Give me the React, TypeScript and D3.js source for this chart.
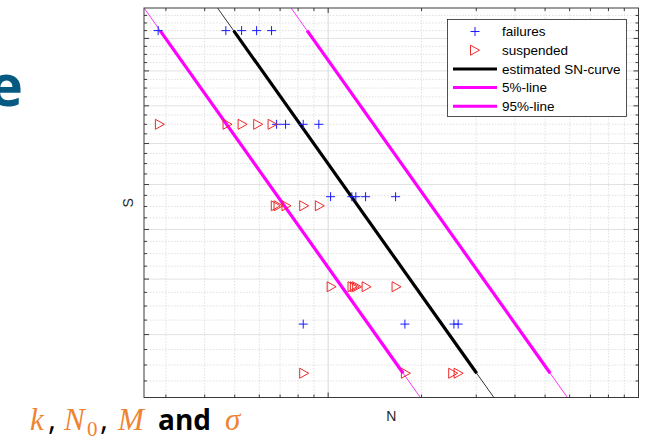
import React from "react";
import * as d3 from "d3";

// Stress levels (S) and cycle counts (N) for tested specimens
const failureLevels = [305, 250, 214.4, 163.6];
const failureCycles = [
  [283300, 468000, 526000, 588000, 657000],
  [682000, 729000, 831000, 933000],
  [1018000, 1192000, 1228000, 1320000, 1649000],
  [831000, 1767000, 2542000, 2624000],
];
const suspendedLevels = [250, 210.3, 177.1, 147.4];
const suspendedCycles = [
  [286900, 474000, 530000, 595000, 662000],
  [678000, 692000, 734000, 837000, 940000],
  [1026000, 1198000, 1219000, 1240000, 1330000, 1661000],
  [837000, 1780000, 2529000, 2632000],
];

// Fitted SN-curve: log10(N) = logN0 - k * log10(S), scatter sigma in log10(N)
const k = 2.48;
const logN0 = 11.8564;
const sigma = 0.144;
const z95 = 1.645;

const legendLabels = ["failures", "suspended", "estimated SN-curve", "5%-line", "95%-line"];

const nDomain = [2.55e5, 1e7];
const sDomain = [140, 320];
const nMajor = [1e6];
const nMinor = [3e5, 4e5, 5e5, 6e5, 7e5, 8e5, 9e5, 2e6, 3e6, 4e6, 5e6, 6e6, 7e6, 8e6, 9e6];
const sMajor = d3.range(160, 320, 20);
const sMinor = d3.range(145, 320, 5).filter((v) => v % 20 !== 0);

const L = 144, R = 638.5, T = 8, B = 397.5;

export default function App() {
  const x = d3.scaleLog().domain(nDomain).range([L, R]);
  const y = d3.scaleLog().domain(sDomain).range([B, T]);

  const curve = (shift: number) => (s: number) => Math.pow(10, logN0 - k * Math.log10(s) + shift);
  const allS = [...failureLevels, ...suspendedLevels];
  const sLo = d3.min(allS)!, sHi = d3.max(allS)!;

  const seg = (f: (s: number) => number, a: number, b: number) =>
    d3
      .line<number>()
      .x((s) => x(f(s)))
      .y((s) => y(s))([a, b]) as string;

  const curves = [
    { f: curve(0), color: "#000000" },
    { f: curve(-z95 * sigma), color: "#ff00ff" },
    { f: curve(z95 * sigma), color: "#ff00ff" },
  ];

  const plus = (cx: number, cy: number, key: string) => (
    <path key={key} d={`M${cx - 4.5},${cy}H${cx + 4.5}M${cx},${cy - 4.5}V${cy + 4.5}`} stroke="#1a1aff" strokeWidth={1} fill="none" />
  );
  const tri = (cx: number, cy: number, key: string) => (
    <path key={key} d={`M${cx - 4.5},${cy - 5}L${cx + 4.5},${cy}L${cx - 4.5},${cy + 5}Z`} stroke="#f02828" strokeWidth={1} fill="none" />
  );

  const axisColor = "#3a3a3a";
  const legY = [31.5, 50.2, 68.9, 87.6, 106.3];

  return (
    <svg width={645} height={440} style={{ position: "fixed", left: 0, top: 0, background: "#fff" }} fontFamily="'Liberation Sans', Arial, sans-serif">
      <defs>
        <clipPath id="plotArea">
          <rect x={L} y={T} width={R - L} height={B - T} />
        </clipPath>
      </defs>
      <rect width={645} height={440} fill="#fff" />

      {/* slide heading fragment */}
      <text x={23} y={106} textAnchor="end" fontFamily="'Open Sans', 'Noto Sans', sans-serif" fontWeight={700} fontSize={58} fill="#065a82">e</text>

      {/* grid */}
      <g>
        {nMinor.map((v) => (
          <line key={"xm" + v} x1={x(v)} x2={x(v)} y1={T} y2={B} stroke="#d4d4d4" strokeWidth={0.7} strokeDasharray="1.5,1.5" />
        ))}
        {sMinor.map((v) => (
          <line key={"ym" + v} x1={L} x2={R} y1={y(v)} y2={y(v)} stroke="#d4d4d4" strokeWidth={0.7} strokeDasharray="1.5,1.5" />
        ))}
        {nMajor.map((v) => (
          <line key={"xM" + v} x1={x(v)} x2={x(v)} y1={T} y2={B} stroke="#d8d8d8" strokeWidth={1} />
        ))}
        {sMajor.map((v) => (
          <line key={"yM" + v} x1={L} x2={R} y1={y(v)} y2={y(v)} stroke="#e2e2e2" strokeWidth={1} />
        ))}
      </g>

      {/* SN-curves: thin over full range, thick over tested stress range */}
      <g clipPath="url(#plotArea)">
        {curves.map((c, i) => (
          <g key={"c" + i}>
            <path d={seg(c.f, sDomain[0], sDomain[1])} stroke={c.color} strokeWidth={0.8} fill="none" />
            <path d={seg(c.f, sLo, sHi)} stroke={c.color} strokeWidth={3.2} fill="none" />
          </g>
        ))}
      </g>

      {/* test points */}
      <g>
        {failureLevels.map((s, i) => failureCycles[i].map((n, j) => plus(x(n), y(s), `f${i}-${j}`)))}
        {suspendedLevels.map((s, i) => suspendedCycles[i].map((n, j) => tri(x(n), y(s), `s${i}-${j}`)))}
      </g>

      {/* axes box and ticks */}
      <g stroke={axisColor} strokeWidth={1} fill="none">
        <rect x={L} y={T} width={R - L} height={B - T} />
        {nMajor.map((v) => (
          <g key={"tx" + v}>
            <line x1={x(v)} x2={x(v)} y1={B} y2={B - 5} />
            <line x1={x(v)} x2={x(v)} y1={T} y2={T + 5} />
          </g>
        ))}
        {nMinor.map((v) => (
          <g key={"tmx" + v}>
            <line x1={x(v)} x2={x(v)} y1={B} y2={B - 3} />
            <line x1={x(v)} x2={x(v)} y1={T} y2={T + 3} />
          </g>
        ))}
        {sMajor.map((v) => (
          <g key={"ty" + v}>
            <line x1={L} x2={L + 5} y1={y(v)} y2={y(v)} />
            <line x1={R} x2={R - 5} y1={y(v)} y2={y(v)} />
          </g>
        ))}
        {sMinor.map((v) => (
          <g key={"tmy" + v}>
            <line x1={L} x2={L + 3} y1={y(v)} y2={y(v)} />
            <line x1={R} x2={R - 3} y1={y(v)} y2={y(v)} />
          </g>
        ))}
      </g>

      {/* axis labels */}
      <text x={(L + R) / 2} y={421} textAnchor="middle" fontSize={14} fill="#262626">N</text>
      <text transform={`translate(133,${(T + B) / 2}) rotate(-90)`} textAnchor="middle" fontSize={14} fill="#262626">S</text>

      {/* legend */}
      <g>
        <rect x={447.5} y={19.5} width={179} height={97} fill="#fff" stroke="#262626" strokeWidth={0.8} />
        {plus(475, legY[0], "lg0")}
        {tri(475, legY[1], "lg1")}
        <line x1={453} x2={497} y1={legY[2]} y2={legY[2]} stroke="#000" strokeWidth={3} />
        <line x1={453} x2={497} y1={legY[3]} y2={legY[3]} stroke="#ff00ff" strokeWidth={3} />
        <line x1={453} x2={497} y1={legY[4]} y2={legY[4]} stroke="#ff00ff" strokeWidth={3} />
        {legendLabels.map((t, i) => (
          <text key={t} x={502} y={legY[i] + 4.8} fontSize={13.5} fill="#000">{t}</text>
        ))}
      </g>

      {/* parameter caption */}
      <g fontSize={31}>
        <text x={30} y={430} fontFamily="'Liberation Serif', serif" fontStyle="italic" fill="#ee8431">k</text>
        <text x={48} y={430} fontFamily="'Open Sans', sans-serif" fill="#000">,</text>
        <text x={64} y={430} fontFamily="'Liberation Serif', serif" fontStyle="italic" fill="#ee8431">N</text>
        <text x={87} y={435.5} fontFamily="'Liberation Serif', serif" fontSize={21} fill="#ee8431">0</text>
        <text x={100} y={430} fontFamily="'Open Sans', sans-serif" fill="#000">,</text>
        <text x={118} y={430} fontFamily="'Liberation Serif', serif" fontStyle="italic" fill="#ee8431">M</text>
        <text x={158} y={430} fontFamily="'Open Sans', sans-serif" fontWeight={700} fontSize={28} fill="#000">and</text>
        <text x={225} y={430} fontFamily="'Liberation Serif', serif" fontStyle="italic" fill="#ee8431">σ</text>
      </g>
    </svg>
  );
}
